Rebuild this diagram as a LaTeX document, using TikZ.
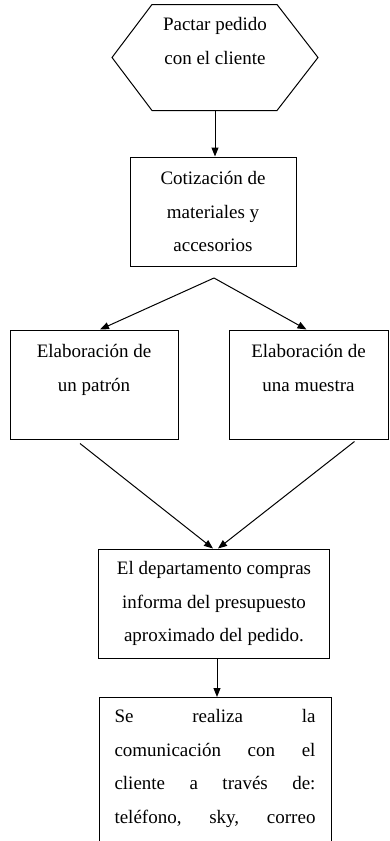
\documentclass[tikz,border=0pt]{standalone}
\usepackage{fontspec}
\setmainfont{Liberation Serif}
\usetikzlibrary{positioning}
\usetikzlibrary{arrows.meta}

\newcommand{\jline}[1]{\makebox[201pt]{#1}}

\begin{document}
\begin{tikzpicture}[x=1pt,y=-1pt,line width=1pt,
	every node/.style={font=\fontsize{19}{33.5}\selectfont},
	caja/.style={draw,rectangle,align=center,minimum height=109pt,inner sep=0pt},
	hexa/.style={rectangle,minimum width=205pt,minimum height=105pt,align=center,inner sep=0pt},
	flecha/.style={-{Triangle[length=9pt,width=7pt]}}]
			\useasboundingbox (0,0) rectangle (390,841);
			\clip (0,0) rectangle (390,841);

			% Inicio
			\node[hexa] (pactar) at (215,57.5) {Pactar pedido\\con el cliente\\\mbox{}};
			\draw (pactar.west) -- ([xshift=40pt]pactar.north west) -- ([xshift=-41pt]pactar.north east)
				-- (pactar.east) -- ([xshift=-41pt]pactar.south east) -- ([xshift=40pt]pactar.south west) -- cycle;

			% Cotizacion
			\node[caja,minimum width=166pt] (cotiz) at (213,211.5)
				{Cotización de\\materiales y\\accesorios};
			\coordinate (split) at (214,278);

			% Patron y muestra
			\node[caja,minimum width=168pt] (patron) at (94,384.5)
				{Elaboración de\\un patrón\\\mbox{}};
			\node[caja,minimum width=159pt] (muestra) at (308.5,384.5)
				{Elaboración de\\una muestra\\\mbox{}};

			% Presupuesto
			\node[caja,minimum width=231pt] (presup) at (214,603.5)
				{El departamento compras\\informa del presupuesto\\aproximado del pedido.};

			% Comunicacion
			\node[draw,anchor=north,align=left,text width=201pt,inner xsep=15.5pt,inner ysep=12pt]
				(comm) at (215,697)
				{\jline{Se\hfill realiza\hfill la}\\\jline{comunicación\hfill con\hfill el}\\
				 \jline{cliente\hfill a\hfill través\hfill de:}\\\jline{teléfono,\hfill sky,\hfill correo}\\\mbox{}};

			% Flechas
			\draw[flecha] (pactar.south) -- (pactar.south |- cotiz.north);
			\draw[flecha] (split) -- ([xshift=6pt]patron.north);
			\draw[flecha] (split) -- ([xshift=-2pt]muestra.north);
			\draw[flecha] ([xshift=-14pt,yshift=-4pt]patron.south) -- ([xshift=-1pt]presup.north);
			\draw[flecha] ([xshift=46pt,yshift=-2pt]muestra.south) -- ([xshift=4pt]presup.north);
			\draw[flecha] ([xshift=3pt]presup.south) -- ([xshift=3pt]presup.south |- comm.north);
		\end{tikzpicture}
\end{document}
